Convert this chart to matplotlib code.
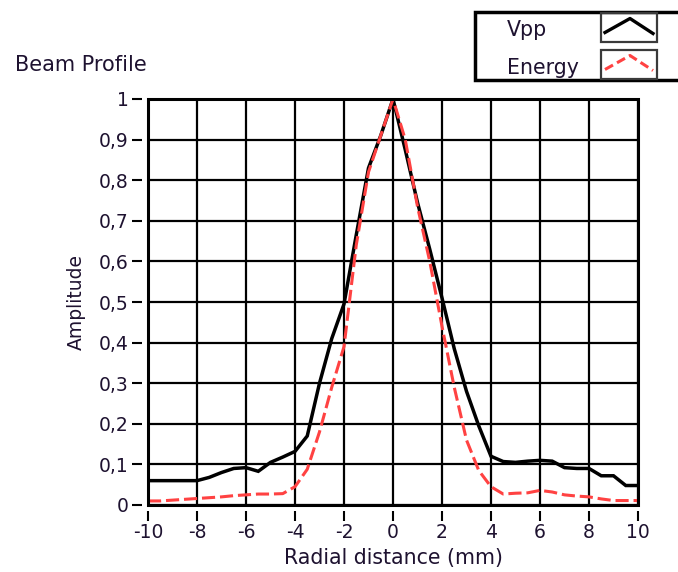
import numpy as np
import matplotlib
matplotlib.use("Agg")
import matplotlib.pyplot as plt
from matplotlib.patches import Rectangle
from matplotlib.lines import Line2D

# Radial positions (mm) and normalised beam amplitudes
radial_mm = [-10, -9.5, -9, -8.5, -8, -7.5, -7, -6.5, -6, -5.5, -5, -4.5, -4, -3.5,
             -3, -2.5, -2, -1.5, -1, -0.5, 0, 0.5, 1, 1.5, 2, 2.5, 3, 3.5, 4, 4.5,
             5, 5.5, 6, 6.5, 7, 7.5, 8, 8.5, 9, 9.5, 10]

vpp = [0.060, 0.060, 0.060, 0.060, 0.060, 0.068, 0.080, 0.090, 0.092, 0.083, 0.105,
       0.118, 0.132, 0.170, 0.300, 0.410, 0.495, 0.665, 0.830, 0.910, 1.000, 0.875,
       0.745, 0.630, 0.510, 0.385, 0.280, 0.195, 0.120, 0.107, 0.105, 0.108, 0.110,
       0.108, 0.092, 0.090, 0.090, 0.072, 0.072, 0.048, 0.048]

energy = [0.010, 0.010, 0.012, 0.014, 0.016, 0.018, 0.020, 0.023, 0.025, 0.027, 0.027,
          0.028, 0.045, 0.088, 0.180, 0.290, 0.390, 0.640, 0.820, 0.910, 1.000, 0.900,
          0.735, 0.600, 0.440, 0.290, 0.160, 0.085, 0.045, 0.027, 0.029, 0.030, 0.036,
          0.032, 0.025, 0.022, 0.020, 0.015, 0.011, 0.011, 0.011]

x_ticks = [-10, -8, -6, -4, -2, 0, 2, 4, 6, 8, 10]
y_ticks = [0, 0.1, 0.2, 0.3, 0.4, 0.5, 0.6, 0.7, 0.8, 0.9, 1.0]
y_tick_labels = ["0", "0,1", "0,2", "0,3", "0,4", "0,5", "0,6", "0,7", "0,8", "0,9", "1"]

series_names = ["Vpp", "Energy"]
vpp_color = "black"
energy_color = "#ff4242"
text_color = "#1e1230"

W, H = 678, 572
fig = plt.figure(figsize=(W / 100, H / 100), dpi=100)
fig.patch.set_facecolor("white")

ax = fig.add_axes([148 / W, 1 - 505 / H, (638 - 148) / W, (505 - 99) / H])
ax.set_xlim(-10, 10)
ax.set_ylim(0, 1)

ax.plot(radial_mm, vpp, color=vpp_color, lw=2.5, solid_joinstyle="miter", zorder=4)
ax.plot(radial_mm, energy, color=energy_color, lw=2.2, dashes=(4.3, 1.6), zorder=5)

ax.set_xticks(x_ticks)
ax.set_xticklabels([str(t) for t in x_ticks])
ax.set_yticks(y_ticks)
ax.set_yticklabels(y_tick_labels)

ax.grid(True, color="black", lw=1.6, zorder=1)
ax.set_axisbelow(True)

for side in ["top", "right", "left", "bottom"]:
    ax.spines[side].set_visible(False)
ax.spines["left"].set_position(("outward", 4))
ax.spines["bottom"].set_position(("outward", 4))

ax.tick_params(axis="both", direction="out", length=7, width=1.5, color="black",
               labelsize=13.5, labelcolor=text_color, pad=3)
ax.tick_params(axis="x", pad=2)

# plot frame
ax.add_patch(Rectangle((0, 0), 1, 1, transform=ax.transAxes, fill=False,
                       edgecolor="black", lw=2.2, clip_on=False, zorder=6))

ax.set_xlabel("Radial distance (mm)", fontsize=14.8, color=text_color, labelpad=4)
ax.set_ylabel("Amplitude", fontsize=13.5, color=text_color, labelpad=9)

fig.text(15 / W, 1 - 65 / H, "Beam Profile", fontsize=15, color=text_color,
         ha="left", va="center")


def fx(px):
    return px / W


def fy(py):
    return 1 - py / H


# legend panel
fig.add_artist(Rectangle((fx(475), fy(80)), fx(215), (80 - 11.7) / H,
                         transform=fig.transFigure, fill=True, facecolor="white",
                         edgecolor="black", lw=2.5, clip_on=False))
swatch_rows = [(13, 42), (50, 79)]
styles = [dict(color=vpp_color, lw=2.4), dict(color=energy_color, lw=2.2, dashes=(3, 1.5))]
for name, (top, bot), st in zip(series_names, swatch_rows, styles):
    fig.add_artist(Rectangle((fx(601), fy(bot)), fx(56), (bot - top) / H,
                             transform=fig.transFigure, fill=False,
                             edgecolor="#3a3a3a", lw=1.6))
    mid = (top + bot) / 2
    fig.add_artist(Line2D([fx(605), fx(630), fx(653)],
                          [fy(mid + 5), fy(mid - 9), fy(mid + 6)],
                          transform=fig.transFigure, **st))
    fig.text(fx(507), fy(mid + 3), name, fontsize=14.8, color=text_color,
             ha="left", va="center")

fig.savefig("out.png", dpi=100)
